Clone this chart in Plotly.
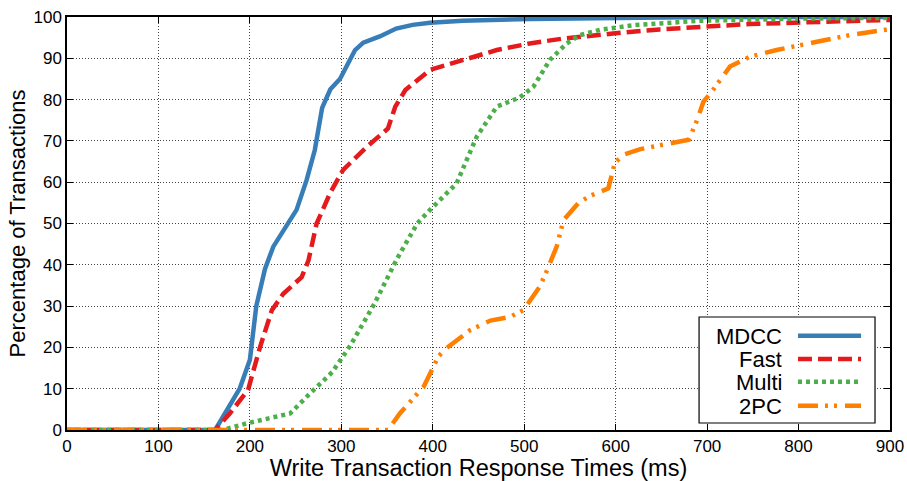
import plotly.graph_objects as go

# ---- data ----
mdcc_x = [0, 162, 189, 200, 207, 216.5, 225.6, 251, 262, 271, 279, 288, 298.5, 315, 324, 342, 360, 378, 397, 433, 506, 616, 700, 900]
mdcc_y = [0, 0, 10.1, 17, 30, 39, 44.4, 53.3, 60.5, 67.8, 78, 82.5, 85, 92, 93.8, 95.3, 97.2, 98.1, 98.6, 99.1, 99.5, 99.9, 100, 100]

fast_x = [0, 162, 178, 198, 211, 224, 236.5, 256.6, 264, 273, 288, 302, 328, 351, 359, 370, 397, 433, 470, 506, 543, 597, 648, 747, 900]
fast_y = [0, 0, 4, 9.7, 20, 29, 33, 37, 41, 50, 57.5, 63, 68.6, 73, 78.3, 82.3, 87.2, 89.6, 92, 93.6, 94.8, 96, 97, 98.3, 99.3]

multi_x = [0, 170, 196.5, 244, 266, 290, 310, 336, 361, 383, 397, 408, 426, 448, 470, 495, 510, 528, 546.5, 561, 583, 619, 692, 800, 900]
multi_y = [0, 0, 1.6, 4, 8.9, 14, 20.5, 30.5, 41.5, 50, 53.3, 55.7, 59.7, 71, 78.3, 80.5, 83.1, 89.6, 93.6, 95.6, 96.9, 98, 99.1, 99.6, 99.8]

tpc_x = [0, 351, 364, 390, 399, 406, 415, 441, 463, 484.5, 499, 517, 525, 535.5, 543, 559, 572, 592, 599, 608, 627, 652, 680, 689, 696, 705, 725, 747, 776, 820, 856, 895, 900]
tpc_y = [0, 0, 4, 10.5, 14.5, 17.8, 19.8, 24.2, 26.5, 27.4, 29, 34.7, 38.7, 44.4, 50.8, 54.9, 56.7, 58.5, 64.6, 66.6, 68, 69, 70.3, 75, 79.5, 81.9, 88, 90.4, 92, 94, 95.6, 96.9, 97]

series_names = ["MDCC", "Fast", "Multi", "2PC"]
x_ticks = [0, 100, 200, 300, 400, 500, 600, 700, 800, 900]
y_ticks = [0, 10, 20, 30, 40, 50, 60, 70, 80, 90, 100]

# ---- styles ----
colors = ["#377eb8", "#e41a1c", "#4daf4a", "#ff7f00"]
dashes = ["solid", "14px,6px", "4px,4px", "20px,7px,3px,6px,3px,8px"]
LW = 4.5
FONT = "Liberation Sans, Arial, sans-serif"

fig = go.Figure()
for name, xs, ys, c, d in zip(series_names,
                              [mdcc_x, fast_x, multi_x, tpc_x],
                              [mdcc_y, fast_y, multi_y, tpc_y],
                              colors, dashes):
    fig.add_trace(go.Scatter(x=xs, y=ys, mode="lines", name=name,
                             line=dict(color=c, width=LW, dash=d),
                             showlegend=False))

axis_common = dict(showline=True, linecolor="black", linewidth=1.5, mirror="allticks",
                   ticks="inside", ticklen=6, tickcolor="black", tickwidth=1,
                   showgrid=True, gridcolor="#444", gridwidth=1, griddash="1px,2px",
                   zeroline=False, automargin=False,
                   tickfont=dict(family=FONT, size=17, color="black"))

fig.update_xaxes(range=[0, 900], tickvals=x_ticks, ticktext=[str(v) for v in x_ticks],
                 title=dict(text="Write Transaction Response Times (ms)",
                            font=dict(family=FONT, size=23.5, color="black"), standoff=2),
                 **axis_common)
fig.update_yaxes(range=[0, 100], tickvals=y_ticks, ticktext=[str(v) for v in y_ticks],
                 title=dict(text="Percentage of Transactions",
                            font=dict(family=FONT, size=22, color="black"), standoff=2),
                 **axis_common)

# ---- custom legend (text left, sample right, as in the reference) ----
shapes = [dict(type="rect", xref="paper", yref="paper", x0=0.768, x1=0.9818,
               y0=0.017, y1=0.2736, line=dict(color="black", width=1.2),
               fillcolor="white", layer="above")]
annotations = []
row_y = [0.2283, 0.1719, 0.1170, 0.0588]
for name, c, d, ry in zip(series_names, colors, dashes, row_y):
    annotations.append(dict(xref="paper", yref="paper", x=0.870, y=ry, text=name,
                            showarrow=False, xanchor="right", yanchor="middle",
                            height=22, borderpad=0,
                            font=dict(family=FONT, size=22, color="black")))
    shapes.append(dict(type="line", xref="paper", yref="paper", x0=0.8882, x1=0.9648,
                       y0=ry, y1=ry, line=dict(color=c, width=LW, dash=d), layer="above"))

fig.update_layout(width=907, height=481,
                  margin=dict(l=67, r=17, t=17, b=51),
                  paper_bgcolor="white", plot_bgcolor="white",
                  shapes=shapes, annotations=annotations,
                  font=dict(family=FONT, color="black"))

fig.write_html("out.html")
